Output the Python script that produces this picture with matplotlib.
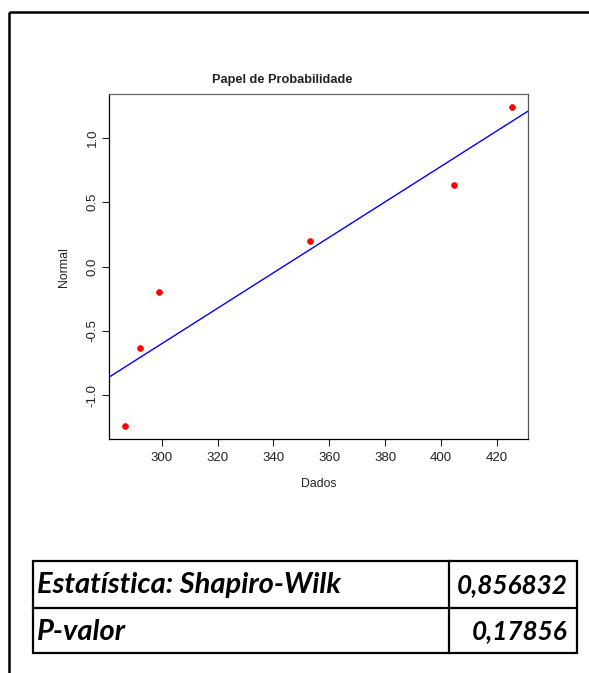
import numpy as np
import matplotlib
matplotlib.use("Agg")
import matplotlib.pyplot as plt
from matplotlib.lines import Line2D
from matplotlib.patches import Rectangle

plt.rcParams["font.family"] = ["Liberation Sans", "DejaVu Sans"]
plt.rcParams["axes.unicode_minus"] = False

# data
dados = [286.6, 292.1, 298.9, 353.0, 404.9, 425.7]
normal = [-1.242, -0.630, -0.198, 0.198, 0.630, 1.242]
x_ticks = [300, 320, 340, 360, 380, 400, 420]
y_ticks = [-1.0, -0.5, 0.0, 0.5, 1.0]

tab_labels = ["Estatística: Shapiro-Wilk", "P-valor"]
tab_values = ["0,856832", "0,17856"]

W, H = 589, 673
fig = plt.figure(figsize=(W / 100, H / 100), dpi=100)

# plot area (pixel box 109..528 x 94..439)
ax = fig.add_axes([109 / W, 1 - 439 / H, (528 - 109) / W, (439 - 94) / H])
ax.plot(dados, normal, "o", color="red", ms=4.2, mec="red", mew=0.5, zorder=3)

slope, icpt = np.polyfit(dados, normal, 1)
ax.axline((0, icpt), slope=slope, color="#0000ff", lw=1.0)

xr = max(dados) - min(dados)
yr = max(normal) - min(normal)
ax.set_xlim(min(dados) - 0.04 * xr, max(dados) + 0.04 * xr)
ax.set_ylim(min(normal) - 0.04 * yr, max(normal) + 0.04 * yr)

ax.set_xticks(x_ticks)
ax.set_yticks(y_ticks)
ax.set_xticklabels([str(t) for t in x_ticks])
ax.set_yticklabels(["%.1f" % t for t in y_ticks], rotation=90, va="center")
ax.tick_params(direction="out", length=5, width=0.8, labelsize=9.5, colors="#222222")
ax.tick_params(axis="x", pad=4.5)
ax.tick_params(axis="y", pad=2.5)
for s in ax.spines.values():
    s.set_linewidth(0.9)
ax.spines["top"].set_color("#666666")
ax.spines["right"].set_color("#555555")

# overlay in pixel coordinates for title, labels, frame and table
ov = fig.add_axes([0, 0, 1, 1], zorder=5)
ov.set_xlim(0, W)
ov.set_ylim(H, 0)
ov.set_axis_off()
ov.patch.set_alpha(0)

ov.text(282, 80, "Papel de Probabilidade", ha="center", va="center",
        fontsize=9.2, fontweight="bold", color="#222222")
ov.text(319, 484, "Dados", ha="center", va="center", fontsize=8.8, color="#222222")
ov.text(64, 267, "Normal", ha="center", va="center", rotation=90,
        fontsize=8.8, color="#222222")

# outer frame
ov.add_line(Line2D([9, W], [12, 12], color="black", lw=1.8, solid_capstyle="butt"))
ov.add_line(Line2D([9, 9], [12, H], color="black", lw=1.8, solid_capstyle="butt"))

# table
tl, tr, tc = 33, 577, 449
rows_y = [561, 608, 653]
ov.add_patch(Rectangle((tl, rows_y[0]), tr - tl, rows_y[-1] - rows_y[0],
                       fill=False, ec="black", lw=1.6))
ov.add_line(Line2D([tl, tr], [rows_y[1]] * 2, color="black", lw=1.6))
ov.add_line(Line2D([tc, tc], [rows_y[0], rows_y[-1]], color="black", lw=1.6))

tfont = dict(family=["Lato", "DejaVu Sans"], fontweight="bold",
             style="italic", color="black", va="center")
for i, (lab, val) in enumerate(zip(tab_labels, tab_values)):
    yc = (rows_y[i] + rows_y[i + 1]) / 2 + 1
    ov.text(37, yc, lab, ha="left", fontsize=21, **tfont)
    ov.text(568, yc, val, ha="right", fontsize=18.8, **tfont)

fig.savefig("out.png", dpi=100, facecolor="white")
